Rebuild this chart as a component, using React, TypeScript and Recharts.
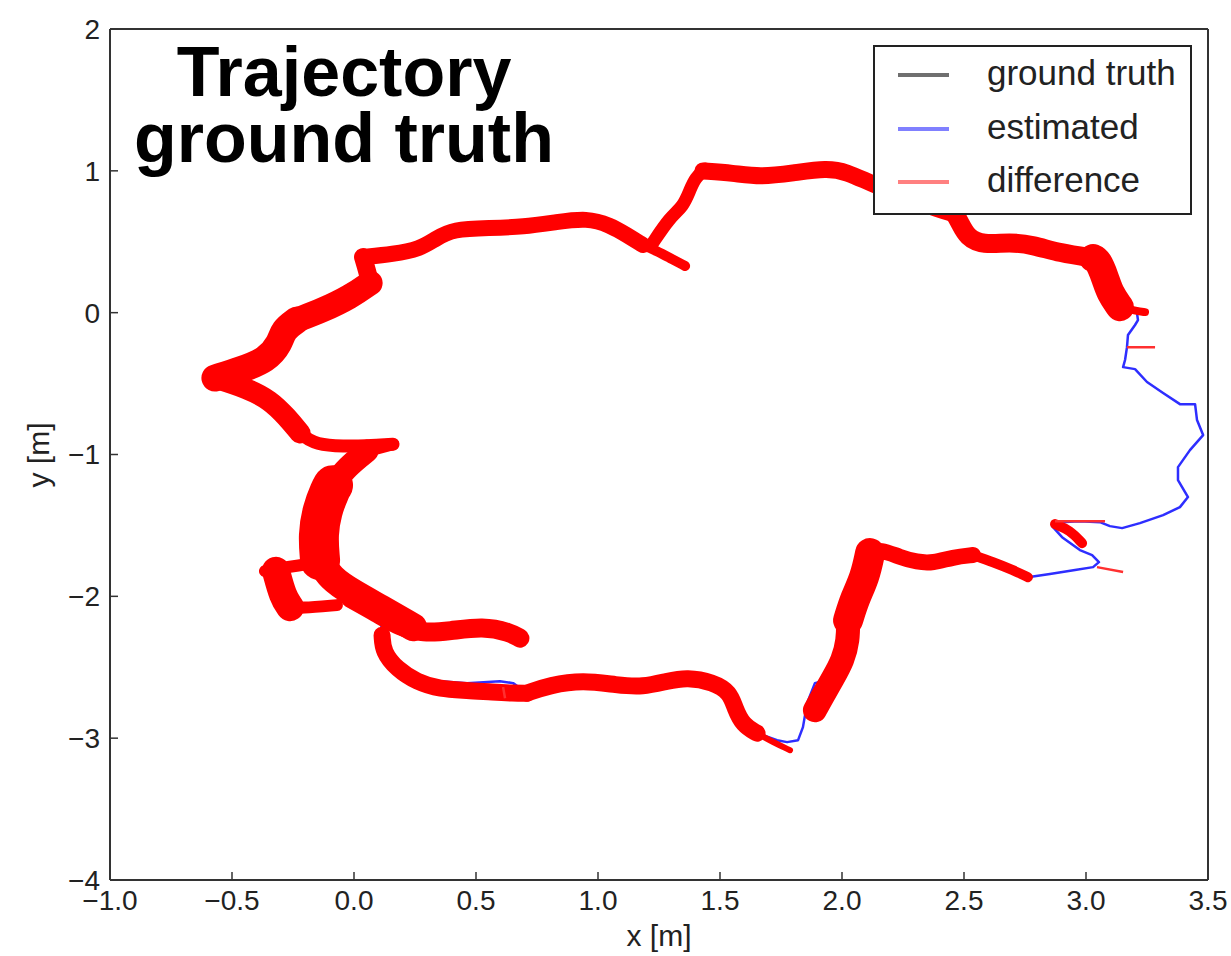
import React from "react";
import { LineChart, Line, XAxis, YAxis, Legend } from "recharts";

type Pt = { x: number; y: number | null };

const FONT = "'Liberation Sans', Arial, Helvetica, sans-serif";

const xTicks = [-1, -0.5, 0, 0.5, 1, 1.5, 2, 2.5, 3, 3.5];
const yTicks = [-4, -3, -2, -1, 0, 1, 2];
const legendLabels = ["ground truth", "estimated", "difference"];

// red band (ground truth vs estimate), centre lines, [x, y] in m
const leftTop = [[-0.57, -0.461], [-0.467, -0.405], [-0.357, -0.334], [-0.303, -0.214], [-0.291, -0.123], [-0.234, -0.052]];
const leftTop2 = [[-0.234, -0.052], [-0.127, 0.018], [-0.016, 0.11], [0.066, 0.209]];
const leftNotch = [[0.066, 0.209], [0.053, 0.3], [0.037, 0.392]];
const topLeft = [[0.037, 0.392], [0.16, 0.413], [0.27, 0.449], [0.332, 0.519], [0.406, 0.59], [0.557, 0.597], [0.693, 0.604], [0.832, 0.639], [0.955, 0.667], [1.049, 0.618], [1.119, 0.547], [1.184, 0.477]];
const spur = [[1.184, 0.477], [1.242, 0.434], [1.295, 0.385], [1.357, 0.329]];
const upBranch = [[1.22, 0.48], [1.295, 0.674], [1.348, 0.745], [1.377, 0.865], [1.398, 0.949], [1.439, 1.013]];
const topRight = [[1.43, 0.999], [1.553, 0.984], [1.664, 0.956], [1.799, 0.984], [1.939, 1.02], [2.02, 0.992], [2.115, 0.914], [2.258, 0.815], [2.402, 0.724], [2.463, 0.695]];
const rightTop = [[2.463, 0.695], [2.484, 0.632], [2.512, 0.533], [2.578, 0.477], [2.689, 0.498], [2.783, 0.477], [2.893, 0.42], [3.029, 0.385]];
const rightSteep = [[3.029, 0.385], [3.049, 0.371], [3.078, 0.251], [3.098, 0.138], [3.139, 0.039]];
const rightTip = [[3.139, 0.039], [3.209, 0.011], [3.242, 0.004]];
const wedge = [[2.873, -1.491], [2.934, -1.533], [2.984, -1.625]];
const rightLow1 = [[2.762, -1.865], [2.701, -1.815], [2.619, -1.759], [2.537, -1.709]];
const rightLow2 = [[2.537, -1.709], [2.455, -1.724], [2.373, -1.766], [2.307, -1.759], [2.238, -1.724], [2.156, -1.667], [2.115, -1.695]];
const descendUpper = [[2.115, -1.695], [2.094, -1.865], [2.053, -2.013], [2.025, -2.168]];
const descendLower = [[2.025, -2.168], [2.025, -2.309], [2.004, -2.45], [1.963, -2.577], [1.918, -2.711], [1.889, -2.803]];
const bottomHatch = [[1.787, -3.085], [1.717, -3.028], [1.652, -2.965]];
const bottom = [[1.652, -2.965], [1.594, -2.908], [1.561, -2.788], [1.541, -2.676], [1.471, -2.605], [1.365, -2.57], [1.283, -2.598], [1.184, -2.64], [1.078, -2.626], [0.939, -2.591], [0.803, -2.626], [0.709, -2.683]];
const lowerLeft = [[0.709, -2.683], [0.652, -2.683], [0.57, -2.676], [0.463, -2.662], [0.352, -2.655], [0.258, -2.605], [0.176, -2.513], [0.119, -2.393], [0.115, -2.274]];
const tail = [[-0.016, -2.013], [0.094, -2.118], [0.189, -2.217], [0.283, -2.26], [0.393, -2.245], [0.529, -2.21], [0.639, -2.253], [0.68, -2.295]];
const tipReturn = [[0.16, -0.927], [0.053, -0.976]];
const tipReturn2 = [[0.053, -0.976], [-0.029, -1.089], [-0.086, -1.216]];
const thickPart = [[-0.086, -1.216], [-0.098, -1.251], [-0.131, -1.392], [-0.148, -1.568], [-0.139, -1.745]];
const lowerJoin = [[-0.139, -1.745], [-0.098, -1.872], [-0.004, -1.977], [0.107, -2.083], [0.242, -2.217]];
const boxTop = [[-0.127, -1.759], [-0.25, -1.787], [-0.365, -1.822]];
const boxSide = [[-0.32, -1.82], [-0.291, -2.006], [-0.262, -2.076]];
const boxBottom = [[-0.262, -2.083], [-0.221, -2.083], [-0.07, -2.062]];
const leftUpper = [[-0.57, -0.461], [-0.439, -0.532], [-0.344, -0.616], [-0.275, -0.736], [-0.221, -0.849]];
const leftUpper2 = [[-0.221, -0.849], [-0.168, -0.92], [-0.086, -0.941], [0.053, -0.941], [0.16, -0.927]];

// single difference segments, start and end
const diffSegments = [
  [[3.168, -0.243], [3.283, -0.243]],
  [[2.873, -1.47], [3.078, -1.47]],
  [[3.045, -1.794], [3.152, -1.829]],
  [[0.611, -2.64], [0.619, -2.718]],
];

// estimated trajectory
const estimated = [
  [1.357, 0.329], [1.295, 0.385], [1.242, 0.434], [1.234, 0.512], [1.295, 0.674], [1.348, 0.745], [1.377, 0.865], [1.398, 0.949], [1.439, 1.013],
  [1.553, 0.984], [1.664, 0.956], [1.799, 0.984], [1.939, 1.02], [2.02, 0.992], [2.115, 0.914], [2.258, 0.815], [2.402, 0.724], [2.463, 0.695],
  [2.484, 0.632], [2.512, 0.533], [2.578, 0.477], [2.689, 0.498], [2.783, 0.477], [2.893, 0.42], [3.029, 0.385], [3.078, 0.251], [3.098, 0.138],
  [3.139, 0.039], [3.209, -0.003], [3.213, -0.052], [3.201, -0.087], [3.172, -0.158], [3.168, -0.243], [3.16, -0.334], [3.152, -0.384],
  [3.201, -0.398], [3.25, -0.489], [3.316, -0.567], [3.385, -0.645], [3.447, -0.645], [3.455, -0.757], [3.48, -0.863], [3.426, -0.969],
  [3.377, -1.089], [3.377, -1.181], [3.418, -1.3], [3.385, -1.371], [3.316, -1.427], [3.221, -1.484], [3.148, -1.519], [3.098, -1.505],
  [3.057, -1.477], [2.975, -1.47], [2.893, -1.477], [2.861, -1.505], [2.902, -1.583], [2.975, -1.674], [3.025, -1.709], [3.053, -1.759],
  [3.029, -1.794], [2.955, -1.815], [2.852, -1.843], [2.762, -1.865], [2.701, -1.815], [2.619, -1.759], [2.537, -1.709], [2.455, -1.724],
  [2.373, -1.766], [2.307, -1.759], [2.238, -1.724], [2.156, -1.667], [2.115, -1.695], [2.094, -1.865], [2.053, -2.013], [2.025, -2.168],
  [2.025, -2.309], [2.004, -2.45], [1.963, -2.577], [1.889, -2.612], [1.857, -2.753], [1.84, -2.922], [1.82, -3.014], [1.775, -3.028],
  [1.734, -3.014], [1.652, -2.965], [1.594, -2.908], [1.561, -2.788], [1.541, -2.676], [1.471, -2.605], [1.365, -2.57], [1.283, -2.598],
  [1.184, -2.64], [1.078, -2.626], [0.939, -2.591], [0.803, -2.626], [0.709, -2.683], [0.652, -2.612], [0.598, -2.598], [0.463, -2.612],
  [0.352, -2.598], [0.258, -2.577], [0.176, -2.493], [0.119, -2.38], [0.115, -2.274], [0.107, -2.083], [-0.004, -1.977], [-0.098, -1.872],
  [-0.139, -1.745], [-0.148, -1.568], [-0.131, -1.392], [-0.098, -1.251], [-0.029, -1.089], [0.053, -0.976], [0.16, -0.927], [0.053, -0.941],
  [-0.086, -0.941], [-0.168, -0.92], [-0.221, -0.849], [-0.275, -0.736], [-0.344, -0.616], [-0.439, -0.532], [-0.57, -0.461], [-0.467, -0.405],
  [-0.357, -0.334], [-0.303, -0.214], [-0.291, -0.123], [-0.234, -0.052], [-0.127, 0.018], [-0.016, 0.11], [0.066, 0.209], [0.053, 0.3],
  [0.037, 0.392], [0.16, 0.413], [0.27, 0.449], [0.332, 0.519], [0.406, 0.59], [0.557, 0.597], [0.693, 0.604], [0.832, 0.639], [0.955, 0.667],
  [1.049, 0.618], [1.119, 0.547], [1.184, 0.477], [1.242, 0.434],
];

const toPts = (a: number[][]): Pt[] => a.map(([x, y]) => ({ x, y }));
const joinWithGaps = (parts: number[][][]): Pt[] =>
  parts.flatMap((p) => [...toPts(p), { x: p[p.length - 1][0], y: null }]);

const bandParts = [
  leftTop, leftTop2, leftNotch, topLeft, spur, upBranch, topRight, rightTop, rightSteep, rightTip,
  rightLow1, rightLow2, descendUpper, descendLower, bottomHatch, bottom, lowerLeft, tail,
  tipReturn, tipReturn2, thickPart, lowerJoin, boxTop, boxSide, boxBottom, leftUpper, leftUpper2,
];
const groundTruth = joinWithGaps(bandParts);
const differenceLines = joinWithGaps(diffSegments);

const GT_COLOR = "#111111";
const EST_COLOR = "#2e2eff";
const DIFF_COLOR = "#ff0000";
const legendColors = ["#6f6f6f", "#8080ff", "#ff8080"];

const LegendBox = () => {
  const rows = [30, 84, 137];
  return (
    <div
      style={{
        position: "relative",
        width: 319,
        height: 170,
        boxSizing: "border-box",
        border: "2px solid #222",
        background: "#fff",
        fontFamily: FONT,
      }}
    >
      {legendLabels.map((label, i) => (
        <React.Fragment key={label}>
          <div
            style={{
              position: "absolute",
              left: 23,
              top: rows[i] - 2 - 2,
              width: 51,
              height: 4,
              background: legendColors[i],
            }}
          />
          <div
            style={{
              position: "absolute",
              left: 112,
              top: rows[i] - 2 - 22,
              lineHeight: "40px",
              fontSize: 35,
              color: "#222",
              whiteSpace: "nowrap",
            }}
          >
            {label}
          </div>
        </React.Fragment>
      ))}
    </div>
  );
};

const fmtX = (v: number) => v.toFixed(1).replace("-", "\u2212");
const fmtY = (v: number) => String(v).replace("-", "\u2212");

const tickStyle = { fontSize: 28, fill: "#222", fontFamily: FONT };
const axisLine = { stroke: "#333", strokeWidth: 2 };
const tickLine = { stroke: "#333", strokeWidth: 1.5 };

export default function App() {
  const band: [number[][], number][] = [
    [leftTop, 27], [leftTop2, 25], [leftNotch, 18], [topLeft, 16], [spur, 10], [upBranch, 13],
    [topRight, 17], [rightTop, 19], [rightSteep, 28], [rightTip, 8], [wedge, 10],
    [rightLow1, 10], [rightLow2, 16], [descendUpper, 30], [descendLower, 24], [bottomHatch, 6],
    [bottom, 17], [lowerLeft, 17], [tail, 19], [tipReturn, 12], [tipReturn2, 23], [thickPart, 40],
    [lowerJoin, 28], [boxTop, 12], [boxSide, 28], [boxBottom, 12], [leftUpper, 21], [leftUpper2, 13],
  ];

  return (
    <div style={{ position: "absolute", left: 0, top: 0, width: 1231, height: 956, background: "#fff" }}>
      <LineChart width={1231} height={956} margin={{ top: 28, right: 22, bottom: 0, left: 0 }}>
        <XAxis
          type="number"
          dataKey="x"
          domain={[-1, 3.5]}
          allowDataOverflow
          ticks={xTicks}
          tickFormatter={fmtX}
          height={76}
          tickSize={-8}
          tickMargin={18}
          tick={tickStyle}
          axisLine={axisLine}
          tickLine={tickLine}
          label={{ value: "x [m]", position: "insideBottom", offset: 10, fontSize: 30, fill: "#222", fontFamily: FONT }}
        />
        <XAxis
          xAxisId="top"
          orientation="top"
          type="number"
          dataKey="x"
          domain={[-1, 3.5]}
          allowDataOverflow
          ticks={xTicks}
          height={1}
          tickSize={-8}
          tick={false}
          axisLine={axisLine}
          tickLine={tickLine}
        />
        <YAxis
          type="number"
          dataKey="y"
          domain={[-4, 2]}
          allowDataOverflow
          ticks={yTicks}
          tickFormatter={fmtY}
          width={110}
          tickSize={-8}
          tickMargin={18}
          tick={tickStyle}
          axisLine={axisLine}
          tickLine={tickLine}
          label={{
            content: () => (
              <text
                x={38}
                y={455}
                transform="rotate(-90 38 455)"
                textAnchor="middle"
                dominantBaseline="central"
                fontSize={30}
                fill="#222"
                fontFamily={FONT}
              >
                y [m]
              </text>
            ),
          }}
        />
        <YAxis
          yAxisId="right"
          orientation="right"
          type="number"
          dataKey="y"
          domain={[-4, 2]}
          allowDataOverflow
          ticks={yTicks}
          width={1}
          tickSize={-8}
          tick={false}
          axisLine={axisLine}
          tickLine={tickLine}
        />
        <Legend
          layout="vertical"
          align="center"
          verticalAlign="middle"
          wrapperStyle={{ left: 873, top: 45, width: 319, height: 170 }}
          content={() => <LegendBox />}
        />
        <Line
          name="ground truth"
          xAxisId="top"
          yAxisId="right"
          data={groundTruth}
          dataKey="y"
          stroke={GT_COLOR}
          strokeWidth={1.5}
          dot={false}
          activeDot={false}
          isAnimationActive={false}
        />
        <Line
          name="estimated"
          data={toPts(estimated)}
          dataKey="y"
          stroke={EST_COLOR}
          strokeWidth={2.5}
          strokeLinejoin="round"
          dot={false}
          activeDot={false}
          isAnimationActive={false}
        />
        {band.map(([part, w], i) => (
          <Line
            key={"band" + i}
            type="basis"
            data={toPts(part)}
            dataKey="y"
            stroke={DIFF_COLOR}
            strokeWidth={w}
            strokeLinecap="round"
            strokeLinejoin="round"
            dot={false}
            activeDot={false}
            legendType="none"
            isAnimationActive={false}
          />
        ))}
        <Line
          name="difference"
          data={differenceLines}
          dataKey="y"
          stroke="#ff3030"
          strokeWidth={2.5}
          dot={false}
          activeDot={false}
          isAnimationActive={false}
        />
      </LineChart>
      <div
        style={{
          position: "absolute",
          left: 44,
          top: 39,
          width: 600,
          textAlign: "center",
          fontFamily: FONT,
          fontWeight: "bold",
          fontSize: 70,
          lineHeight: "66px",
          color: "#000",
          pointerEvents: "none",
        }}
      >
        Trajectory
        <br />
        ground truth
      </div>
    </div>
  );
}
